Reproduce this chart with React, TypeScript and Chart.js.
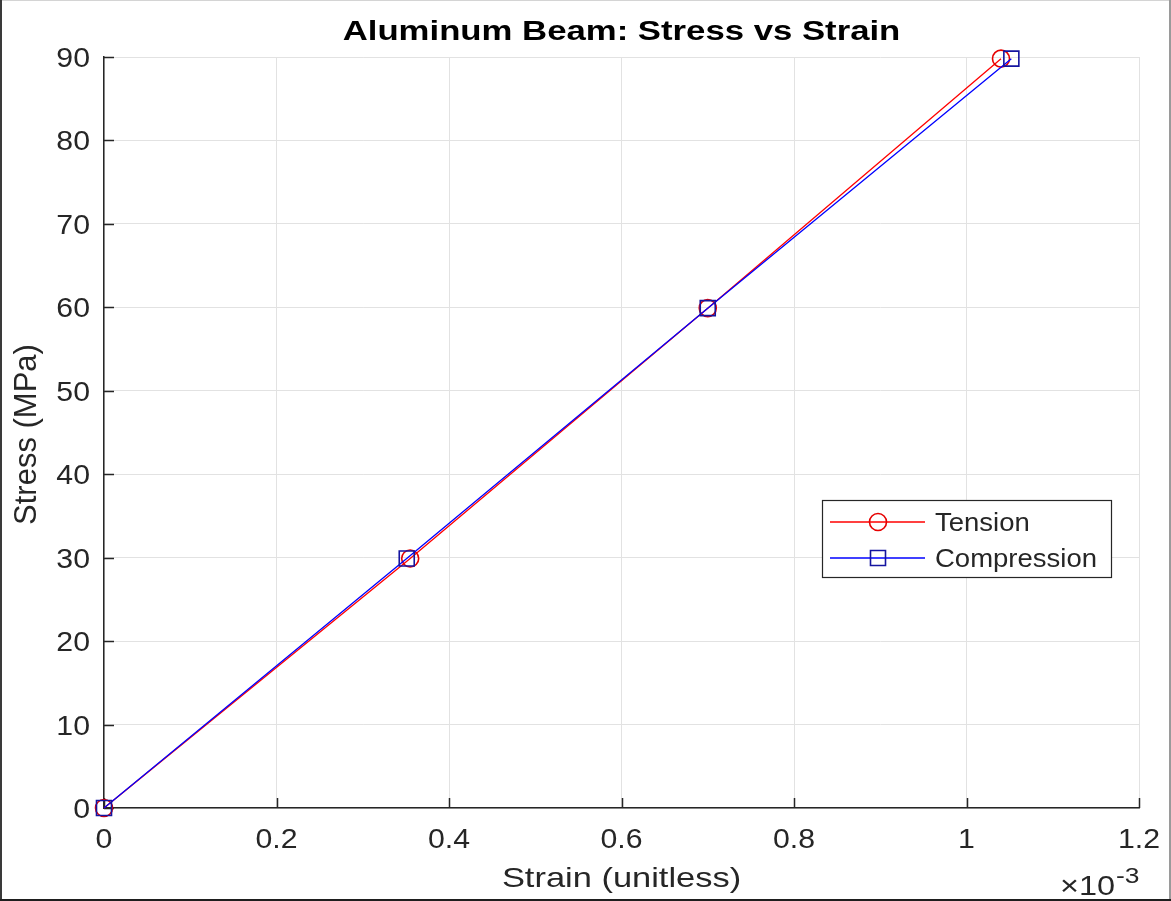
import React, { useEffect, useRef } from 'react';
import { Chart, registerables } from 'chart.js';

Chart.register(...registerables);

// ---- data ----
const tensionStrain = [0, 0.000355, 0.0007, 0.00104];
const tensionStress = [0, 29.9, 59.9, 89.8];
const compressionStrain = [0, 0.000351, 0.0007, 0.001052];
const compressionStress = [0, 29.9, 59.9, 89.8];

const xTickValues = [0, 0.0002, 0.0004, 0.0006, 0.0008, 0.001, 0.0012];
const xTickLabels = ['0', '0.2', '0.4', '0.6', '0.8', '1', '1.2'];
const yTickValues = [0, 10, 20, 30, 40, 50, 60, 70, 80, 90];
const yTickLabels = ['0', '10', '20', '30', '40', '50', '60', '70', '80', '90'];

const seriesNames = ['Tension', 'Compression'];
const titleText = 'Aluminum Beam: Stress vs Strain';
const xAxisTitle = 'Strain (unitless)';
const yAxisTitle = 'Stress (MPa)';
const xMultiplierBase = '\u00d710';
const xMultiplierExp = '-3';

const RED = 'rgb(255,0,0)';
const BLUE = 'rgb(0,0,255)';
const AXIS = '#262626';
const GRID = '#e2e2e2';
const FONT = '"Liberation Sans", Arial, Helvetica, sans-serif';

function txt(
  ctx: CanvasRenderingContext2D,
  s: string,
  x: number,
  y: number,
  font: string,
  color: string,
  align: CanvasTextAlign,
  sx: number
) {
  ctx.save();
  ctx.font = font;
  ctx.fillStyle = color;
  ctx.textAlign = align;
  ctx.textBaseline = 'alphabetic';
  ctx.translate(x, y);
  ctx.scale(sx, 1);
  ctx.fillText(s, 0, 0);
  ctx.restore();
}

const decorPlugin = {
  id: 'decor',
  beforeDraw(chart: any) {
    const ctx = chart.ctx as CanvasRenderingContext2D;
    ctx.save();
    ctx.fillStyle = '#ffffff';
    ctx.fillRect(0, 0, chart.width, chart.height);
    ctx.restore();
  },
  beforeDatasetsDraw(chart: any) {
    const ctx = chart.ctx as CanvasRenderingContext2D;
    const xs = chart.scales.x;
    const ys = chart.scales.y;
    const { left, bottom } = chart.chartArea;
    ctx.save();
    ctx.strokeStyle = AXIS;
    ctx.lineWidth = 1.5;
    ctx.beginPath();
    xs.ticks.forEach((t: any) => {
      const px = Math.round(xs.getPixelForValue(t.value)) + 0.5;
      ctx.moveTo(px, bottom);
      ctx.lineTo(px, bottom - 10);
    });
    ys.ticks.forEach((t: any) => {
      const py = Math.round(ys.getPixelForValue(t.value)) + 0.5;
      ctx.moveTo(left, py);
      ctx.lineTo(left + 10, py);
    });
    ctx.stroke();
    ctx.restore();
  },
  afterDatasetsDraw(chart: any) {
    const ctx = chart.ctx as CanvasRenderingContext2D;
    const xs = chart.scales.x;
    const ys = chart.scales.y;
    const { left, right, top, bottom } = chart.chartArea;

    // tick labels
    xs.ticks.forEach((t: any, i: number) => {
      const px = xs.getPixelForValue(t.value);
      txt(ctx, xTickLabels[i], px, bottom + 40, `27px ${FONT}`, AXIS, 'center', 1.12);
    });
    ys.ticks.forEach((t: any, i: number) => {
      const py = ys.getPixelForValue(t.value);
      txt(ctx, yTickLabels[i], left - 14, py + 10, `27px ${FONT}`, AXIS, 'right', 1.12);
    });

    // title
    txt(ctx, titleText, (left + right) / 2, 40, `bold 28px ${FONT}`, '#000000', 'center', 1.24);

    // x axis title
    txt(ctx, xAxisTitle, (left + right) / 2, 887, `28px ${FONT}`, AXIS, 'center', 1.23);

    // y axis title (rotated)
    ctx.save();
    ctx.font = `31px ${FONT}`;
    ctx.fillStyle = AXIS;
    ctx.textAlign = 'center';
    ctx.textBaseline = 'alphabetic';
    ctx.translate(36, (top + bottom) / 2 + 2);
    ctx.rotate(-Math.PI / 2);
    ctx.fillText(yAxisTitle, 0, 0);
    ctx.restore();

    // multiplier
    txt(ctx, xMultiplierBase, 1060, 895, `27px ${FONT}`, AXIS, 'left', 1.2);
    txt(ctx, xMultiplierExp, 1116, 883, `22px ${FONT}`, AXIS, 'left', 1.2);

    // legend
    const bx = 822.5, by = 500.5, bw = 289, bh = 77;
    ctx.save();
    ctx.fillStyle = '#ffffff';
    ctx.fillRect(bx, by, bw, bh);
    ctx.strokeStyle = AXIS;
    ctx.lineWidth = 1.2;
    ctx.strokeRect(bx, by, bw, bh);
    const rows = [
      { y: 522, color: RED, marker: 'circle', name: seriesNames[0] },
      { y: 558, color: BLUE, marker: 'rect', name: seriesNames[1] },
    ];
    rows.forEach((r) => {
      ctx.strokeStyle = r.color;
      ctx.lineWidth = 1.3;
      ctx.beginPath();
      ctx.moveTo(830, r.y);
      ctx.lineTo(925, r.y);
      ctx.stroke();
      ctx.lineWidth = 1.6;
      ctx.beginPath();
      if (r.marker === 'circle') {
        ctx.strokeStyle = 'rgb(230,0,0)';
        ctx.arc(878, r.y, 8.5, 0, Math.PI * 2);
      } else {
        ctx.strokeStyle = 'rgb(20,20,160)';
        ctx.rect(870.5, r.y - 7.5, 15, 15);
      }
      ctx.stroke();
      txt(ctx, r.name, 935, r.y + 9, `25px ${FONT}`, AXIS, 'left', 1.1);
    });
    ctx.restore();

    // outer frame
    ctx.save();
    ctx.fillStyle = '#d4d4d4';
    ctx.fillRect(0, 0, chart.width, 1);
    ctx.fillStyle = '#9a9a9a';
    ctx.fillRect(chart.width - 2, 0, 2, chart.height);
    ctx.fillStyle = '#3a3a3a';
    ctx.fillRect(0, 0, 2, chart.height);
    ctx.fillStyle = '#1e1e1e';
    ctx.fillRect(0, chart.height - 2, chart.width, 2);
    ctx.restore();
  },
};

export default function App() {
  const ref = useRef<HTMLCanvasElement>(null);
  useEffect(() => {
    document.body.style.margin = '0';
    const canvas = ref.current!;
    const chart = new Chart(canvas, {
      type: 'scatter',
      data: {
        datasets: [
          {
            label: seriesNames[0],
            data: tensionStrain.map((x, i) => ({ x, y: tensionStress[i] })),
            showLine: true,
            borderColor: RED,
            borderWidth: 1.3,
            pointStyle: 'circle',
            pointRadius: 8.5,
            pointBorderWidth: 1.6,
            pointBorderColor: 'rgb(230,0,0)',
            pointBackgroundColor: 'rgba(0,0,0,0)',
            clip: false as any,
            order: 2,
          },
          {
            label: seriesNames[1],
            data: compressionStrain.map((x, i) => ({ x, y: compressionStress[i] })),
            showLine: true,
            borderColor: BLUE,
            borderWidth: 1.3,
            pointStyle: 'rect',
            pointRadius: 10.6,
            pointBorderWidth: 1.6,
            pointBorderColor: 'rgb(20,20,160)',
            pointBackgroundColor: 'rgba(0,0,0,0)',
            clip: false as any,
            order: 1,
          },
        ],
      },
      options: {
        animation: false,
        responsive: false,
        devicePixelRatio: 1,
        events: [],
        layout: { padding: { left: 0, right: 32, top: 57, bottom: 0 } },
        plugins: {
          legend: { display: false },
          tooltip: { enabled: false },
          title: { display: false },
        },
        scales: {
          x: {
            type: 'linear',
            min: 0,
            max: 0.0012,
            afterBuildTicks: (s: any) => {
              s.ticks = xTickValues.map((v) => ({ value: v }));
            },
            afterFit: (s: any) => {
              s.height = 93;
            },
            ticks: { display: false },
            grid: { color: GRID, lineWidth: 1, drawTicks: false },
            border: { display: true, color: AXIS, width: 1.5 },
          },
          y: {
            type: 'linear',
            min: 0,
            max: 90,
            afterBuildTicks: (s: any) => {
              s.ticks = yTickValues.map((v) => ({ value: v }));
            },
            afterFit: (s: any) => {
              s.width = 104;
            },
            ticks: { display: false },
            grid: { color: GRID, lineWidth: 1, drawTicks: false },
            border: { display: true, color: AXIS, width: 1.5 },
          },
        },
      },
      plugins: [decorPlugin],
    });
    return () => chart.destroy();
  }, []);
  return (
    <div style={{ position: 'absolute', left: 0, top: 0 }}>
      <canvas ref={ref} width={1171} height={901} style={{ display: 'block', width: 1171, height: 901 }} />
    </div>
  );
}
